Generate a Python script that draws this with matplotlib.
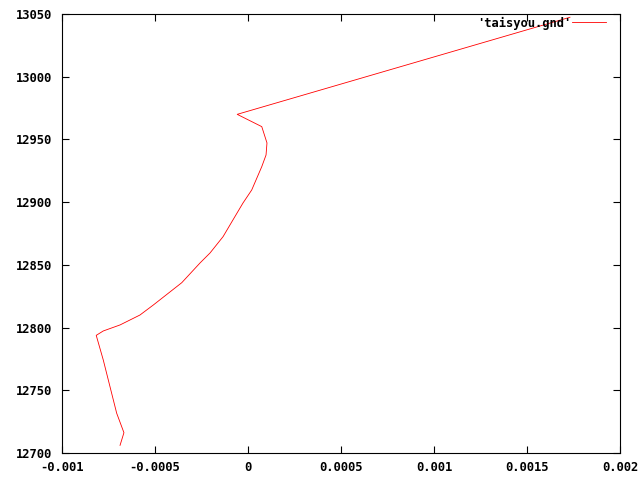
import matplotlib
matplotlib.use("Agg")
import matplotlib.pyplot as plt

# points, from bottom end upward
x_vals = [-0.000688, -0.000667, -0.000706, -0.000742, -0.000778, -0.000816,
          -0.000778, -0.000688, -0.000581, -0.000509, -0.000356, -0.000258,
          -0.000204, -0.000134, -0.000081, -0.000027, 0.000020, 0.000074,
          0.000097, 0.000102, 0.000074, -0.000058, 0.001731]
y_vals = [12706.1, 12716.2, 12731.7, 12752.9, 12774.1, 12793.8,
          12797.3, 12802.1, 12810.0, 12818.0, 12835.8, 12851.5,
          12859.5, 12872.5, 12885.8, 12899.3, 12909.7, 12928.3,
          12937.6, 12947.2, 12960.2, 12970.0, 13047.4]

x_ticks = [-0.001, -0.0005, 0, 0.0005, 0.001, 0.0015, 0.002]
x_labels = ["-0.001", "-0.0005", "0", "0.0005", "0.001", "0.0015", "0.002"]
y_ticks = [12700, 12750, 12800, 12850, 12900, 12950, 13000, 13050]
y_labels = [str(v) for v in y_ticks]

font = dict(family="DejaVu Sans Mono", weight="bold", size=8.7)

fig = plt.figure(figsize=(6.4, 4.8), dpi=100)
ax = fig.add_axes([62/640, 27/480, 558/640, 439/480])

ax.plot(x_vals, y_vals, color="red", lw=0.6, label="'taisyou.gnd'")

ax.set_xlim(-0.001, 0.002)
ax.set_ylim(12700, 13050)
ax.set_xticks(x_ticks)
ax.set_xticklabels(x_labels, fontdict=font)
ax.set_yticks(y_ticks)
ax.set_yticklabels(y_labels, fontdict=font)
ax.tick_params(direction="in", length=5, width=0.8, top=True, right=True,
               colors="black")
ax.tick_params(axis="x", pad=6)
ax.tick_params(axis="y", pad=7)
for s in ax.spines.values():
    s.set_linewidth(0.8)

leg = ax.legend(loc="center right", bbox_to_anchor=(0.975, 0.9795),
                frameon=False, markerfirst=False, borderpad=0,
                borderaxespad=0, handlelength=2.8, handletextpad=0.1,
                prop=font)

fig.savefig("out.png", dpi=100)
